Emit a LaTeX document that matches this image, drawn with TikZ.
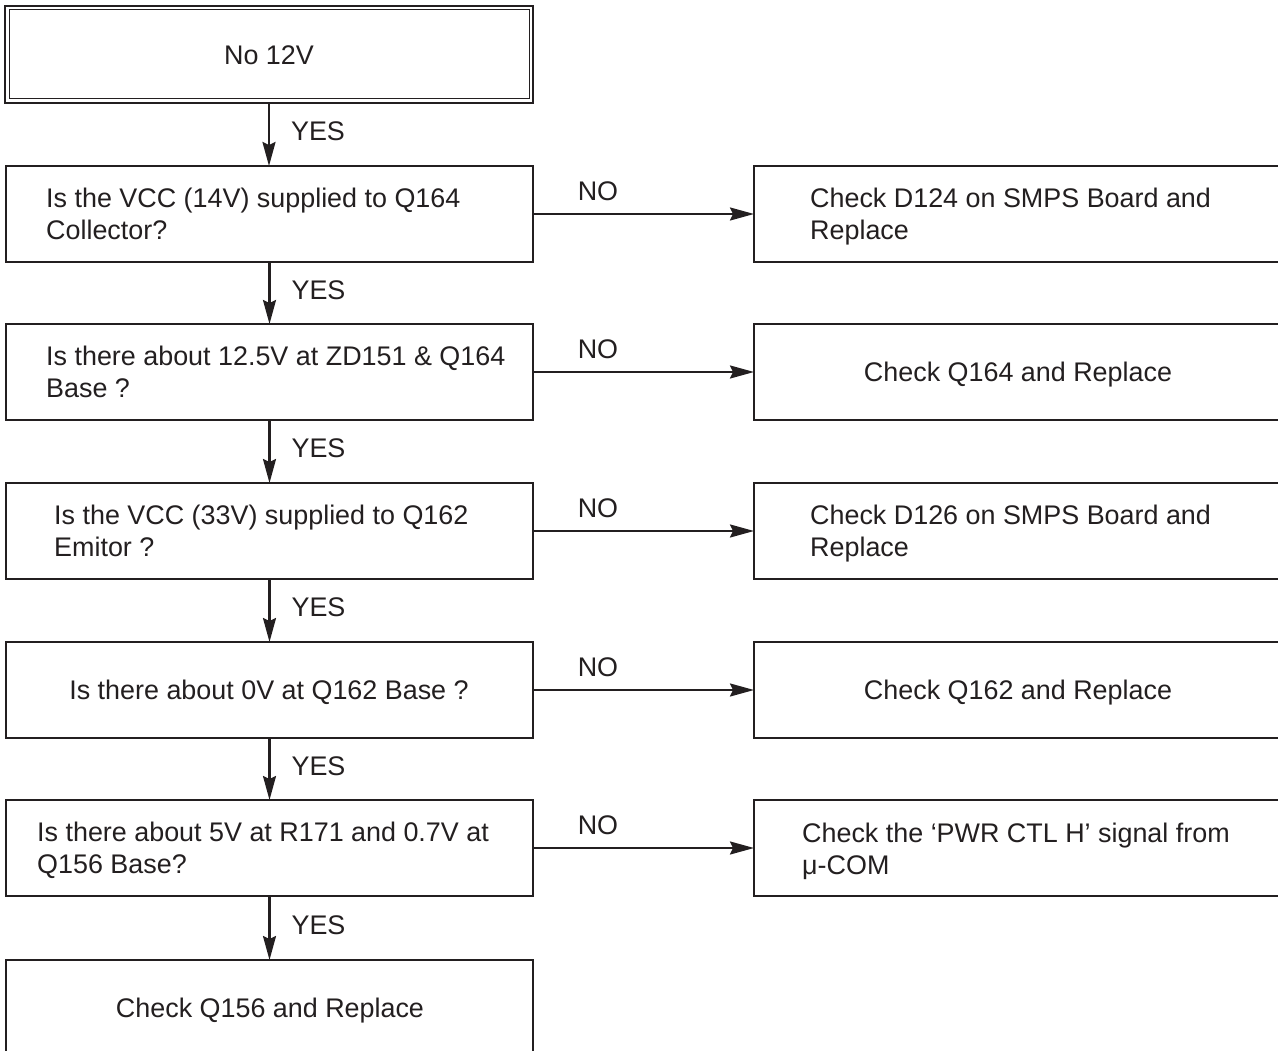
\documentclass[tikz,border=0pt]{standalone}
\usepackage{fontspec}
\setmainfont{Liberation Sans}
\usetikzlibrary{arrows.meta}
\definecolor{ink}{HTML}{231F20}
\begin{document}
\begin{tikzpicture}[x=1pt,y=-1pt,
 box/.style={draw=ink, line width=2.2pt, minimum width=527pt, minimum height=96pt, inner sep=0pt, outer sep=0pt},
 rbox/.style={box, minimum width=528pt},
 txt/.style={text=ink, inner sep=0pt, font=\fontsize{26.9}{32}\selectfont, align=left},
 arr/.style={draw=ink, line width=2.2pt, -{Stealth[length=24pt,width=13pt,inset=3pt]}},
 lbl/.style={text=ink, inner sep=0pt, font=\fontsize{26.9}{32}\selectfont}]
\useasboundingbox (0,0) rectangle (1278,1051);
\clip (0,0) rectangle (1278,1051);
\fill[white] (0,0) rectangle (1278,1051);

% start box with double border
\node[box, minimum width=528pt, minimum height=97pt] (start) at (269,54.5) {};
\draw[ink, line width=1pt] ([shift={(4,4)}]start.north west) rectangle ([shift={(-4,-4)}]start.south east);
\node[txt] (t0) at (269,55) {No 12V};

% left column
\node[box] (b1) at (269.5,214) {};
\node[box] (b2) at (269.5,372) {};
\node[box] (b3) at (269.5,531) {};
\node[box] (b4) at (269.5,690) {};
\node[box] (b5) at (269.5,848) {};
\node[box] (b6) at (269.5,1008) {};

\node[txt, anchor=west] (t1) at (46,214) {Is the VCC (14V) supplied to Q164\\Collector?};
\node[txt, anchor=west] (t2) at (46,372) {Is there about 12.5V at ZD151 \& Q164\\Base ?};
\node[txt, anchor=west] (t3) at (54,531) {Is the VCC (33V) supplied to Q162\\Emitor ?};
\node[txt, yshift=-2pt] (t4) at (269,690) {Is there about 0V at Q162 Base ?};
\node[txt, anchor=west, yshift=-2pt] (t5) at (37,848) {Is there about 5V at R171 and 0.7V at\\Q156 Base?};
\node[txt, yshift=-3pt] (t6) at (270,1008) {Check Q156 and Replace};

% right column
\node[rbox] (r1) at (1018,214) {};
\node[rbox] (r2) at (1018,372) {};
\node[rbox] (r3) at (1018,531) {};
\node[rbox] (r4) at (1018,690) {};
\node[rbox] (r5) at (1018,848) {};

\node[txt, anchor=west, yshift=-3pt] (u1) at (810,214) {Check D124 on SMPS Board and\\Replace};
\node[txt, yshift=-3pt] (u2) at (1018,372) {Check Q164 and Replace};
\node[txt, anchor=west, yshift=-3pt] (u3) at (810,531) {Check D126 on SMPS Board and\\Replace};
\node[txt, yshift=-3pt] (u4) at (1018,690) {Check Q162 and Replace};
\node[txt, anchor=west, yshift=-3pt] (u5) at (802,848) {Check the ‘PWR CTL H’ signal from\\μ-COM};

% YES arrows
\draw[arr] (start.south) -- node[lbl, anchor=west, xshift=21pt, yshift=3pt] (y0) {YES} (start.south |- b1.north);
\draw[arr] (b1.south) -- node[lbl, anchor=west, xshift=21pt, yshift=3pt] (y1) {YES} (b2.north);
\draw[arr] (b2.south) -- node[lbl, anchor=west, xshift=21pt, yshift=3pt] (y2) {YES} (b3.north);
\draw[arr] (b3.south) -- node[lbl, anchor=west, xshift=21pt, yshift=3pt] (y3) {YES} (b4.north);
\draw[arr] (b4.south) -- node[lbl, anchor=west, xshift=21pt, yshift=3pt] (y4) {YES} (b5.north);
\draw[arr] (b5.south) -- node[lbl, anchor=west, xshift=21pt, yshift=3pt] (y5) {YES} (b6.north);

% NO arrows
\draw[arr] (b1.east) -- node[lbl, pos=0.294, yshift=23pt] (n1) {NO} (r1.west);
\draw[arr] (b2.east) -- node[lbl, pos=0.294, yshift=23pt] (n2) {NO} (r2.west);
\draw[arr] (b3.east) -- node[lbl, pos=0.294, yshift=23pt] (n3) {NO} (r3.west);
\draw[arr] (b4.east) -- node[lbl, pos=0.294, yshift=23pt] (n4) {NO} (r4.west);
\draw[arr] (b5.east) -- node[lbl, pos=0.294, yshift=23pt] (n5) {NO} (r5.west);
\end{tikzpicture}
\end{document}
